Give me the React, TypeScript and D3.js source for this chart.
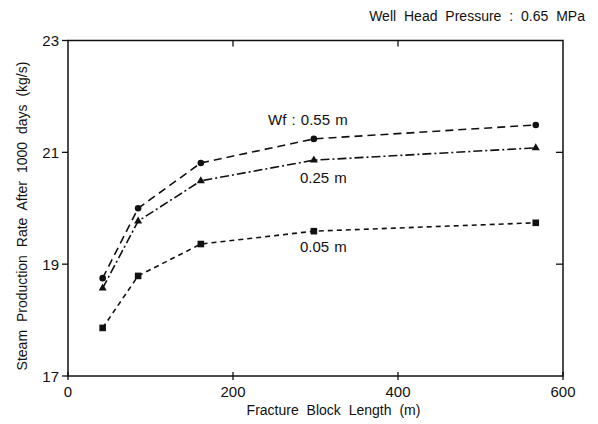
import React from 'react';
import * as d3 from 'd3';

// fracture block length (m)
const blockLength = [42, 85, 161, 298, 567];
// steam production rate after 1000 days (kg/s), by fracture width
const wf055 = [18.75, 20.0, 20.81, 21.24, 21.49];
const wf025 = [18.57, 19.77, 20.49, 20.86, 21.08];
const wf005 = [17.86, 18.79, 19.36, 19.59, 19.74];

const xTicks = [0, 200, 400, 600];
const yTicks = [17, 19, 21, 23];

const series = [
  { name: 'Wf : 0.55 m', values: wf055, dash: '8,5', marker: 'circle', label: 'Wf : 0.55 m', lx: 268, ly: 125 },
  { name: '0.25 m', values: wf025, dash: '9,3,2,3', marker: 'triangle', label: '0.25 m', lx: 300, ly: 183 },
  { name: '0.05 m', values: wf005, dash: '5,4', marker: 'square', label: '0.05 m', lx: 300, ly: 252 },
];

const font = '"Liberation Sans", Arial, sans-serif';

export default function App() {
  const width = 598;
  const height = 424;
  const left = 68, right = 563, top = 40.5, bottom = 376;

  const x = d3.scaleLinear().domain([0, 600]).range([left, right]);
  const y = d3.scaleLinear().domain([17, 23]).range([bottom, top]);

  const line = d3.line<number>()
    .x((_, i) => x(blockLength[i]))
    .y(d => y(d));

  const triangle = d3.symbol().type(d3.symbolTriangle).size(28)() || '';

  return (
    <svg width={width} height={height} style={{ position: 'absolute', left: 0, top: 0, background: '#fff' }}>
      <text x={585} y={21} fontFamily={font} fontSize={14} textAnchor="end" fill="#111" style={{ wordSpacing: 4 }}>
        Well Head Pressure : 0.65 MPa
      </text>

      {/* frame */}
      <rect x={left} y={top} width={right - left} height={bottom - top} fill="none" stroke="#111" strokeWidth={1.5} />

      {/* y ticks: outside left, inside right */}
      {yTicks.map(t => (
        <g key={`y-${t}`}>
          <line x1={left - 6} x2={left} y1={y(t)} y2={y(t)} stroke="#111" strokeWidth={1.3} />
          {t !== 17 && t !== 23 && (
            <line x1={right - 7} x2={right} y1={y(t)} y2={y(t)} stroke="#111" strokeWidth={1.3} />
          )}
          <text x={left - 9} y={y(t) + 5.5} fontFamily={font} fontSize={15} textAnchor="end" fill="#111">{t}</text>
        </g>
      ))}

      {/* x ticks */}
      {xTicks.map(t => (
        <g key={`x-${t}`}>
          <line x1={x(t)} x2={x(t)} y1={bottom - 4} y2={bottom + 4} stroke="#111" strokeWidth={1.3} />
          {t !== 0 && t !== 600 && (
            <line x1={x(t)} x2={x(t)} y1={top} y2={top + 6} stroke="#111" strokeWidth={1.3} />
          )}
          <text x={x(t)} y={bottom + 21} fontFamily={font} fontSize={15} textAnchor="middle" fill="#111">{t}</text>
        </g>
      ))}

      <text x={(left + right) / 2 + 18} y={415} fontFamily={font} fontSize={14} textAnchor="middle" fill="#111" style={{ wordSpacing: 4 }}>
        Fracture Block Length (m)
      </text>
      <text transform={`translate(27, 216) rotate(-90)`} fontFamily={font} fontSize={14} textAnchor="middle" fill="#111" style={{ wordSpacing: 4 }}>
        Steam Production Rate After 1000 days (kg/s)
      </text>

      {series.map(s => (
        <g key={s.name}>
          <path d={line(s.values) || ''} fill="none" stroke="#111" strokeWidth={1.6} strokeDasharray={s.dash} />
          {s.values.map((v, i) => {
            const px = x(blockLength[i]);
            const py = y(v);
            if (s.marker === 'circle') return <circle key={i} cx={px} cy={py} r={3.3} fill="#111" />;
            if (s.marker === 'square') return <rect key={i} x={px - 3.3} y={py - 3.3} width={6.6} height={6.6} fill="#111" />;
            return <path key={i} d={triangle} transform={`translate(${px},${py})`} fill="#111" />;
          })}
          <text x={s.lx} y={s.ly} fontFamily={font} fontSize={15} fill="#111" style={{ wordSpacing: 1 }}>{s.label}</text>
        </g>
      ))}
    </svg>
  );
}
